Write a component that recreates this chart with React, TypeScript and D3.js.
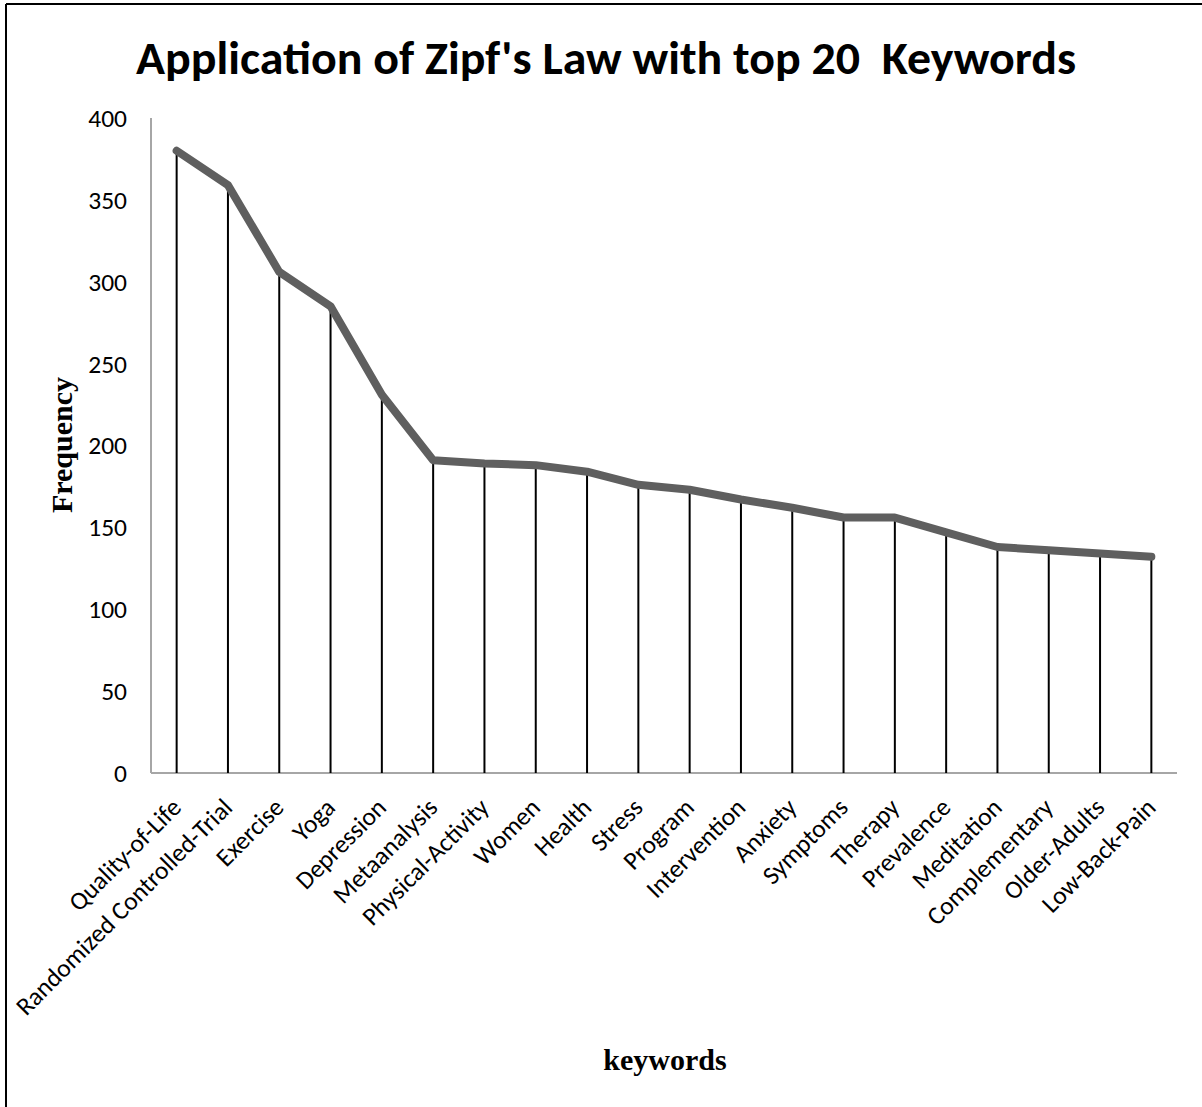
import React from "react";
import * as d3 from "d3";

const keywords = [
  "Quality-of-Life",
  "Randomized Controlled-Trial",
  "Exercise",
  "Yoga",
  "Depression",
  "Metaanalysis",
  "Physical-Activity",
  "Women",
  "Health",
  "Stress",
  "Program",
  "Intervention",
  "Anxiety",
  "Symptoms",
  "Therapy",
  "Prevalence",
  "Meditation",
  "Complementary",
  "Older-Adults",
  "Low-Back-Pain",
];

const frequencies = [380, 359, 306, 285, 231, 191, 189, 188, 184, 176, 173, 167, 162, 156, 156, 147, 138, 136, 134, 132];

const yTicks = [0, 50, 100, 150, 200, 250, 300, 350, 400];

const W = 1202;
const H = 1107;
const plot = { left: 151, right: 1177, top: 118, bottom: 773 };

export default function App() {
  const x = d3
    .scaleBand<string>()
    .domain(keywords)
    .range([plot.left, plot.right])
    .paddingInner(0)
    .paddingOuter(0);
  const y = d3.scaleLinear().domain([0, 400]).range([plot.bottom, plot.top]);
  const cx = (k: string) => (x(k) ?? 0) + x.bandwidth() / 2;

  const pts = keywords.map((k, i) => ({ k, v: frequencies[i] }));
  const line = d3
    .line<{ k: string; v: number }>()
    .x((d) => cx(d.k))
    .y((d) => y(d.v));

  const sans = "Carlito, 'Open Sans', 'DejaVu Sans', sans-serif";
  const serif = "'Liberation Serif', 'Times New Roman', serif";

  return (
    <svg
      width={W}
      height={H}
      style={{ position: "absolute", left: 0, top: 0, background: "#fff" }}
    >
      <rect x={0} y={0} width={W} height={H} fill="#fff" />
      {/* frame */}
      <line x1={6} y1={4} x2={W} y2={4} stroke="#000" strokeWidth={2} />
      <line x1={6} y1={4} x2={6} y2={H} stroke="#000" strokeWidth={2} />

      <text
        x={606}
        y={74}
        textAnchor="middle"
        fontFamily={sans}
        fontWeight={700}
        fontSize={46}
        textLength={940}
        lengthAdjust="spacingAndGlyphs"
        fill="#000"
        style={{ whiteSpace: "pre" }}
      >
        {"Application of Zipf's Law with top 20  Keywords"}
      </text>

      {/* axes */}
      <line x1={plot.left} y1={plot.top} x2={plot.left} y2={plot.bottom} stroke="#a6a6a6" strokeWidth={2} />
      <line x1={plot.left} y1={plot.bottom} x2={plot.right} y2={plot.bottom} stroke="#a6a6a6" strokeWidth={2} />

      {yTicks.map((t) => (
        <text
          key={t}
          x={127}
          y={y(t)}
          dy="0.35em"
          textAnchor="end"
          fontFamily={sans}
          fontSize={25.5}
          fill="#000"
        >
          {t}
        </text>
      ))}

      {/* drop lines */}
      {pts.map((d) => (
        <line
          key={d.k}
          x1={cx(d.k)}
          x2={cx(d.k)}
          y1={y(d.v)}
          y2={plot.bottom}
          stroke="#000"
          strokeWidth={2}
        />
      ))}

      <path
        d={line(pts) ?? ""}
        fill="none"
        stroke="#5f5f5f"
        strokeWidth={8}
        strokeLinecap="round"
        strokeLinejoin="round"
      />

      {keywords.map((k) => (
        <text
          key={k}
          transform={`translate(${cx(k) + 6},${plot.bottom + 36}) rotate(-45)`}
          textAnchor="end"
          fontFamily={sans}
          fontSize={25.5}
          fill="#000"
        >
          {k}
        </text>
      ))}

      <text
        transform={`translate(72,445) rotate(-90)`}
        textAnchor="middle"
        fontFamily={serif}
        fontWeight={700}
        fontSize={30}
        fill="#000"
      >
        Frequency
      </text>

      <text
        x={665}
        y={1070}
        textAnchor="middle"
        fontFamily={serif}
        fontWeight={700}
        fontSize={30}
        fill="#000"
      >
        keywords
      </text>
    </svg>
  );
}
